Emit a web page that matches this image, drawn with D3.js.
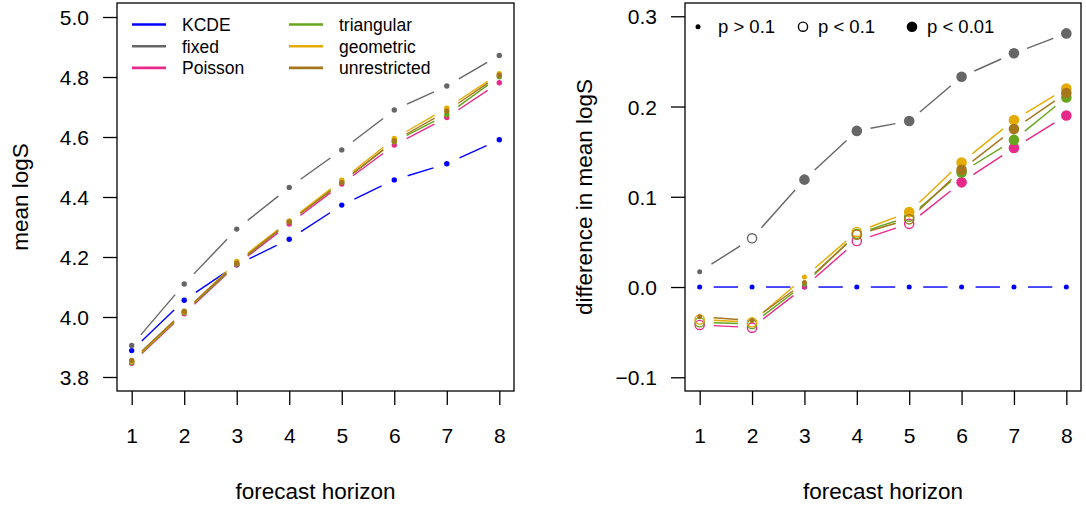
<!DOCTYPE html>
<html><head><meta charset="utf-8">
<script src="https://cdn.jsdelivr.net/npm/d3@7"></script>
<style>
body{margin:0;background:#fff;}
svg{display:block;font-family:"Liberation Sans",Arial,Helvetica,sans-serif;}
</style></head>
<body><svg id="c" width="1086" height="507"></svg>
<script>
// ---- data ----
const horizons = [1,2,3,4,5,6,7,8];
const models = ["KCDE","fixed","Poisson","triangular","geometric","unrestricted"];
const colors = ["#0000FF","#666666","#E7298A","#66A61E","#E6AB02","#A6761D"];
// left panel: mean logS
const meanKCDE         = [3.888,4.056,4.174,4.259,4.373,4.457,4.511,4.591];
const meanFixed        = [3.905,4.110,4.293,4.432,4.557,4.690,4.770,4.872];
const meanPoisson      = [3.846,4.011,4.174,4.310,4.443,4.573,4.665,4.781];
const meanTriangular   = [3.849,4.015,4.177,4.318,4.451,4.584,4.674,4.801];
const meanGeometric    = [3.852,4.017,4.185,4.320,4.456,4.595,4.696,4.811];
const meanUnrestricted = [3.855,4.019,4.179,4.317,4.448,4.587,4.686,4.806];
// right panel: difference in mean logS (vs KCDE)
const diffKCDE         = [0,0,0,0,0,0,0,0];
const diffFixed        = [0.017,0.054,0.119,0.173,0.184,0.233,0.259,0.281];
const diffPoisson      = [-0.042,-0.045,0.000,0.051,0.070,0.116,0.154,0.190];
const diffTriangular   = [-0.039,-0.041,0.003,0.059,0.078,0.127,0.163,0.210];
const diffGeometric    = [-0.036,-0.039,0.011,0.061,0.083,0.138,0.185,0.220];
const diffUnrestricted = [-0.033,-0.037,0.005,0.058,0.075,0.130,0.175,0.215];
// significance: 0 = p > 0.1, 1 = p < 0.1, 2 = p < 0.01
const sigKCDE         = [0,0,0,0,0,0,0,0];
const sigFixed        = [0,1,2,2,2,2,2,2];
const sigPoisson      = [1,1,0,1,1,2,2,2];
const sigTriangular   = [1,1,0,1,1,2,2,2];
const sigGeometric    = [1,1,0,1,2,2,2,2];
const sigUnrestricted = [0,0,0,1,1,2,2,2];
const leftTicks  = [3.8,4.0,4.2,4.4,4.6,4.8,5.0];
const rightTicks = [-0.1,0.0,0.1,0.2,0.3];
const sigLabels  = ["p > 0.1","p < 0.1","p < 0.01"];

const meanSeries = [meanKCDE,meanFixed,meanPoisson,meanTriangular,meanGeometric,meanUnrestricted];
const diffSeries = [diffKCDE,diffFixed,diffPoisson,diffTriangular,diffGeometric,diffUnrestricted];
const sigSeries  = [sigKCDE,sigFixed,sigPoisson,sigTriangular,sigGeometric,sigUnrestricted];

const svg = d3.select("#c");
const TICKFS = 21, TITLEFS = 22.5;

function panel(box, yDomain, yTicks, yFmt, yTitle, yTitleX){
  const x = d3.scaleLinear().domain([0.72,8.28]).range([box.l, box.r]);
  const y = d3.scaleLinear().domain(yDomain).range([box.b, box.t]);
  const g = svg.append("g");
  const xa = g.append("g").attr("transform",`translate(0,${box.b})`)
    .call(d3.axisBottom(x).tickValues(horizons).tickFormat(d3.format("d")).tickSize(14).tickPadding(23));
  xa.select(".domain").remove();
  const ya = g.append("g").attr("transform",`translate(${box.l},0)`)
    .call(d3.axisLeft(y).tickValues(yTicks).tickFormat(yFmt).tickSize(14).tickPadding(14));
  ya.select(".domain").remove();
  g.selectAll(".tick line").attr("stroke","#000").attr("stroke-width",1.3);
  g.selectAll(".tick text").attr("font-size",TICKFS).attr("fill","#000").attr("font-family","Liberation Sans, Arial, sans-serif");
  ya.selectAll(".tick text").attr("dy","0.36em");
  xa.selectAll(".tick text").attr("dy","0.71em");
  g.append("rect").attr("x",box.l).attr("y",box.t).attr("width",box.r-box.l).attr("height",box.b-box.t)
    .attr("fill","none").attr("stroke","#000").attr("stroke-width",1.3);
  g.append("text").attr("x",(box.l+box.r)/2).attr("y",499).attr("text-anchor","middle")
    .attr("font-size",TITLEFS).text("forecast horizon");
  g.append("text").attr("transform",`translate(${yTitleX},${(box.t+box.b)/2}) rotate(-90)`)
    .attr("text-anchor","middle").attr("font-size",TITLEFS).text(yTitle);
  return {x,y,g};
}

function gappedLines(g, x, y, vals, color, gap){
  for(let i=0;i<vals.length-1;i++){
    const x1=x(horizons[i]), y1=y(vals[i]), x2=x(horizons[i+1]), y2=y(vals[i+1]);
    const dx=x2-x1, dy=y2-y1, L=Math.hypot(dx,dy);
    if(L<=2*gap) continue;
    const ux=dx/L, uy=dy/L;
    g.append("line").attr("x1",x1+ux*gap).attr("y1",y1+uy*gap)
      .attr("x2",x2-ux*gap).attr("y2",y2-uy*gap)
      .attr("stroke",color).attr("stroke-width",1.4);
  }
}

// left panel
const L = panel({l:117,r:514,t:3,b:391},[3.7533,5.0467],leftTicks,d3.format(".1f"),"mean logS",28);
meanSeries.forEach((vals,k)=>{
  gappedLines(L.g,L.x,L.y,vals,colors[k],14);
  L.g.selectAll(null).data(vals).enter().append("circle")
    .attr("cx",(d,i)=>L.x(horizons[i])).attr("cy",d=>L.y(d)).attr("r",2.7).attr("fill",colors[k]);
});
// left legend
models.forEach((m,k)=>{
  const col = Math.floor(k/3), row = k%3;
  const lx = col===0 ? 132 : 289, ty = 24.5 + row*21.7;
  L.g.append("line").attr("x1",lx).attr("x2",lx+34).attr("y1",ty).attr("y2",ty)
    .attr("stroke",colors[k]).attr("stroke-width",2.6);
  L.g.append("text").attr("x",lx+50).attr("y",ty).attr("dy","0.36em").attr("font-size",17.5).text(m);
});

// right panel
const fmtR = d=> d<0 ? "\u2212"+Math.abs(d).toFixed(1) : d.toFixed(1);
const R = panel({l:685,r:1081,t:3,b:391},[-0.1152,0.3147],rightTicks,fmtR,"difference in mean logS",592);
function sigMark(sel, s, color){
  sel.attr("r", s===0 ? 2.5 : (s===1 ? 4.6 : 5.3))
     .attr("fill", s===1 ? "none" : color)
     .attr("stroke", s===1 ? color : "none")
     .attr("stroke-width", 1.4);
}
diffSeries.forEach((vals,k)=>{
  gappedLines(R.g,R.x,R.y,vals,colors[k],14);
  vals.forEach((d,i)=>{
    sigMark(R.g.append("circle").attr("cx",R.x(horizons[i])).attr("cy",R.y(d)), sigSeries[k][i], colors[k]);
  });
});
// right legend
const legX = [698,803,912];
sigLabels.forEach((t,s)=>{
  sigMark(R.g.append("circle").attr("cx",legX[s]).attr("cy",26.7), s, "#000");
  R.g.append("text").attr("x",legX[s]+(s===0?20:15)).attr("y",26.7).attr("dy","0.36em")
    .attr("font-size",18.5).text(t);
});
</script></body></html>
